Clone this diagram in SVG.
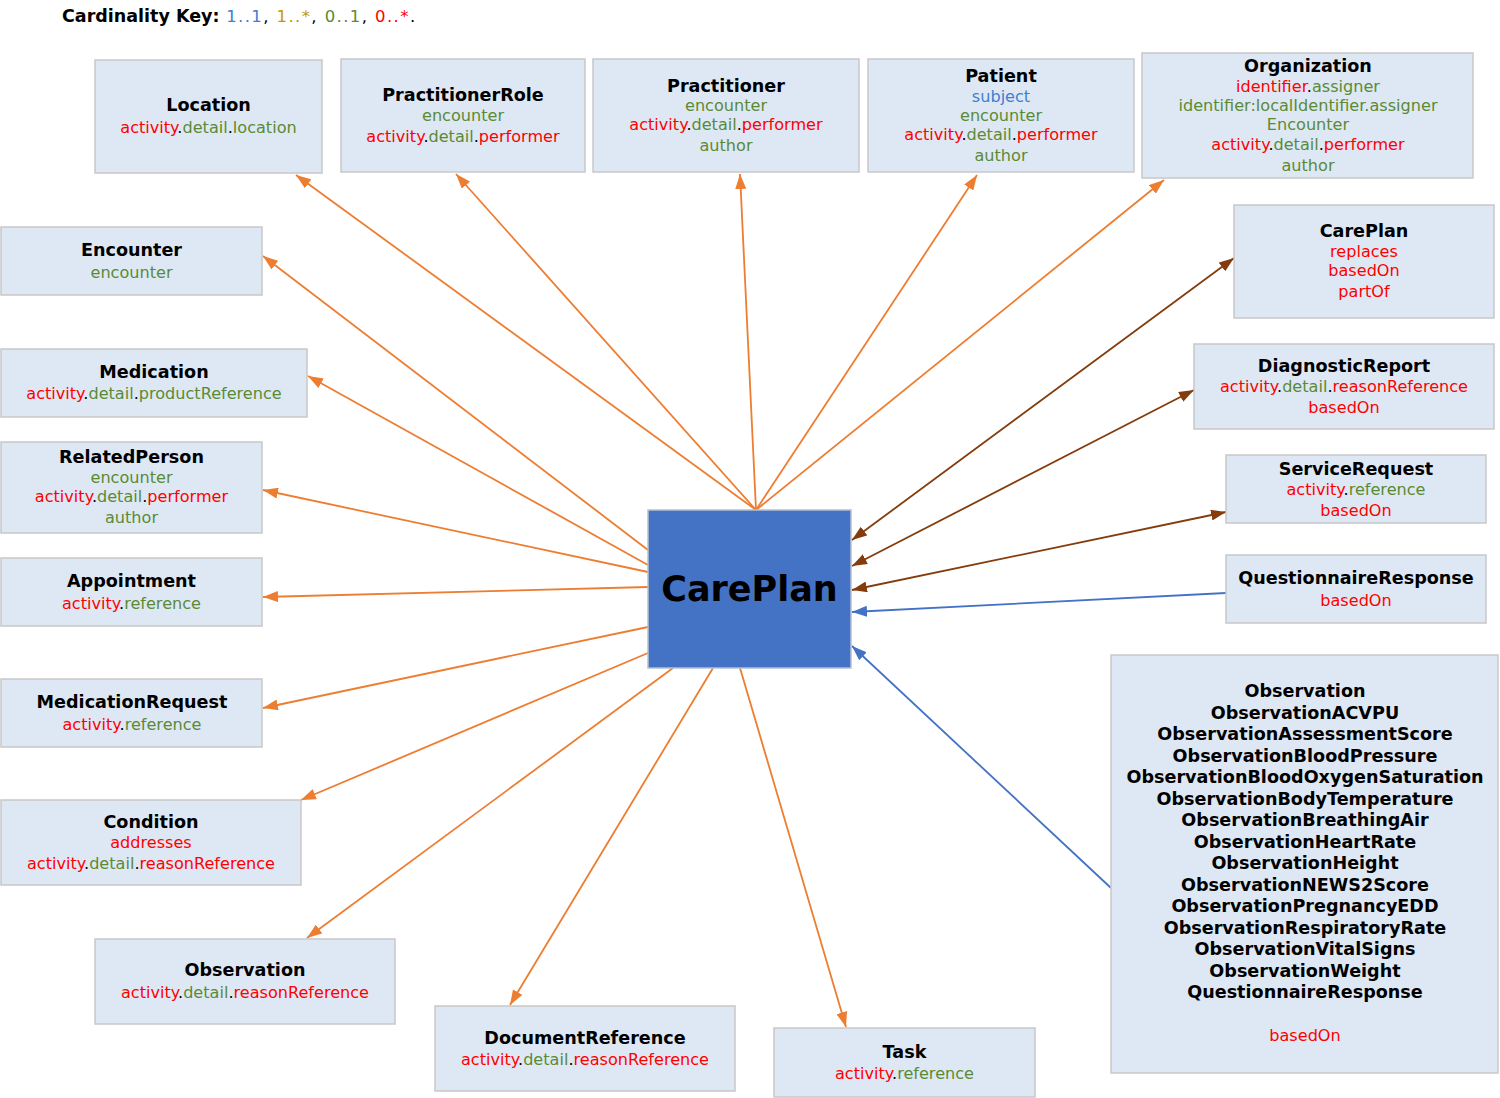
<svg xmlns="http://www.w3.org/2000/svg" width="1500" height="1098" viewBox="0 0 1500 1098">
<style>
text{font-family:"DejaVu Sans","Verdana",sans-serif;}
.box{fill:#dde8f4;stroke:#c8c8c8;stroke-width:1.5;}
.t{font-weight:bold;font-size:17.6px;fill:#000;text-anchor:middle;}
.s{font-size:16.1px;fill:#000;text-anchor:middle;}
.r{fill:#ff0000;}
.g{fill:#5b8a35;}
.b{fill:#3f7fcf;}
.y{fill:#c49a00;}
.k{fill:#000;}
.or{stroke:#ed7d31;stroke-width:1.8;fill:none;}
.br{stroke:#843c0c;stroke-width:1.8;fill:none;}
.bl{stroke:#4472c4;stroke-width:1.8;fill:none;}
</style>
<defs>
<marker id="ao" viewBox="0 0 15 11" refX="15" refY="5.5" markerWidth="15" markerHeight="11" markerUnits="userSpaceOnUse" orient="auto-start-reverse"><path d="M0,0 L15,5.5 L0,11 z" fill="#ed7d31"/></marker>
<marker id="ab" viewBox="0 0 15 11" refX="15" refY="5.5" markerWidth="15" markerHeight="11" markerUnits="userSpaceOnUse" orient="auto-start-reverse"><path d="M0,0 L15,5.5 L0,11 z" fill="#843c0c"/></marker>
<marker id="al" viewBox="0 0 15 11" refX="15" refY="5.5" markerWidth="15" markerHeight="11" markerUnits="userSpaceOnUse" orient="auto-start-reverse"><path d="M0,0 L15,5.5 L0,11 z" fill="#4472c4"/></marker>
</defs>
<rect x="0" y="0" width="1500" height="1098" fill="#ffffff"/>

<text x="62" y="22" font-size="17.5px"><tspan font-weight="bold">Cardinality Key:</tspan><tspan font-size="16.5px" letter-spacing="1.4px"> <tspan class="b">1..1</tspan>, <tspan class="y">1..*</tspan>, <tspan class="g">0..1</tspan>, <tspan class="r">0..*</tspan>.</tspan></text>

<g id="connectors">
<line class="or" x1="756" y1="510" x2="296" y2="175" marker-end="url(#ao)"/>
<line class="or" x1="756" y1="510" x2="456" y2="174" marker-end="url(#ao)"/>
<line class="or" x1="756" y1="510" x2="740" y2="174" marker-end="url(#ao)"/>
<line class="or" x1="756" y1="510" x2="977" y2="175" marker-end="url(#ao)"/>
<line class="or" x1="756" y1="510" x2="1164" y2="180" marker-end="url(#ao)"/>
<line class="or" x1="648" y1="550" x2="263" y2="256" marker-end="url(#ao)"/>
<line class="or" x1="648" y1="565" x2="308" y2="376" marker-end="url(#ao)"/>
<line class="or" x1="648" y1="572" x2="263" y2="490" marker-end="url(#ao)"/>
<line class="or" x1="648" y1="587" x2="263" y2="597" marker-end="url(#ao)"/>
<line class="or" x1="648" y1="627" x2="263" y2="708" marker-end="url(#ao)"/>
<line class="or" x1="648" y1="653" x2="301" y2="800" marker-end="url(#ao)"/>
<line class="or" x1="673" y1="668" x2="307" y2="938" marker-end="url(#ao)"/>
<line class="or" x1="713" y1="668" x2="510" y2="1005" marker-end="url(#ao)"/>
<line class="or" x1="740" y1="668" x2="846" y2="1027" marker-end="url(#ao)"/>
<line class="br" x1="852" y1="540" x2="1234" y2="258" marker-start="url(#ab)" marker-end="url(#ab)"/>
<line class="br" x1="852" y1="566" x2="1194" y2="390" marker-start="url(#ab)" marker-end="url(#ab)"/>
<line class="br" x1="852" y1="590" x2="1226" y2="512" marker-start="url(#ab)" marker-end="url(#ab)"/>
<line class="bl" x1="1226" y1="593" x2="852" y2="612" marker-end="url(#al)"/>
<line class="bl" x1="1111" y1="888" x2="852" y2="646" marker-end="url(#al)"/>
</g>

<g id="careplan-center">
<rect x="648" y="510" width="203" height="158" fill="#4472c4" stroke="#b4c0d4" stroke-width="1.5"/>
<text x="749.5" y="601" font-weight="bold" font-size="35px" text-anchor="middle" fill="#000">CarePlan</text>
</g>

<g id="location">
<rect class="box" x="95" y="60" width="227" height="113"/>
<text class="t" x="208.5" y="111">Location</text>
<text class="s" x="208.5" y="133"><tspan class="r">activity</tspan>.<tspan class="g">detail</tspan>.<tspan class="g">location</tspan></text>
</g>

<g id="practitionerrole">
<rect class="box" x="341" y="59" width="244" height="113"/>
<text class="t" x="463" y="101">PractitionerRole</text>
<text class="s" x="463" y="121"><tspan class="g">encounter</tspan></text>
<text class="s" x="463" y="142"><tspan class="r">activity</tspan>.<tspan class="g">detail</tspan>.<tspan class="r">performer</tspan></text>
</g>

<g id="practitioner">
<rect class="box" x="593" y="59" width="266" height="113"/>
<text class="t" x="726" y="92">Practitioner</text>
<text class="s" x="726" y="111"><tspan class="g">encounter</tspan></text>
<text class="s" x="726" y="130"><tspan class="r">activity</tspan>.<tspan class="g">detail</tspan>.<tspan class="r">performer</tspan></text>
<text class="s" x="726" y="151"><tspan class="g">author</tspan></text>
</g>

<g id="patient">
<rect class="box" x="868" y="59" width="266" height="113"/>
<text class="t" x="1001" y="82">Patient</text>
<text class="s" x="1001" y="102"><tspan class="b">subject</tspan></text>
<text class="s" x="1001" y="121"><tspan class="g">encounter</tspan></text>
<text class="s" x="1001" y="140"><tspan class="r">activity</tspan>.<tspan class="g">detail</tspan>.<tspan class="r">performer</tspan></text>
<text class="s" x="1001" y="161"><tspan class="g">author</tspan></text>
</g>

<g id="organization">
<rect class="box" x="1142" y="53" width="331" height="125"/>
<text class="t" x="1308" y="72">Organization</text>
<text class="s" x="1308" y="92"><tspan class="r">identifier</tspan>.<tspan class="g">assigner</tspan></text>
<text class="s" x="1308" y="111"><tspan class="g">identifier:localIdentifier.assigner</tspan></text>
<text class="s" x="1308" y="130"><tspan class="g">Encounter</tspan></text>
<text class="s" x="1308" y="150"><tspan class="r">activity</tspan>.<tspan class="g">detail</tspan>.<tspan class="r">performer</tspan></text>
<text class="s" x="1308" y="171"><tspan class="g">author</tspan></text>
</g>

<g id="careplan-ref">
<rect class="box" x="1234" y="205" width="260" height="113"/>
<text class="t" x="1364" y="237">CarePlan</text>
<text class="s" x="1364" y="257"><tspan class="r">replaces</tspan></text>
<text class="s" x="1364" y="276"><tspan class="r">basedOn</tspan></text>
<text class="s" x="1364" y="297"><tspan class="r">partOf</tspan></text>
</g>

<g id="diagnosticreport">
<rect class="box" x="1194" y="344" width="300" height="85"/>
<text class="t" x="1344" y="372">DiagnosticReport</text>
<text class="s" x="1344" y="392"><tspan class="r">activity</tspan>.<tspan class="g">detail</tspan>.<tspan class="r">reasonReference</tspan></text>
<text class="s" x="1344" y="413"><tspan class="r">basedOn</tspan></text>
</g>

<g id="servicerequest">
<rect class="box" x="1226" y="455" width="260" height="68"/>
<text class="t" x="1356" y="475">ServiceRequest</text>
<text class="s" x="1356" y="495"><tspan class="r">activity</tspan>.<tspan class="g">reference</tspan></text>
<text class="s" x="1356" y="516"><tspan class="r">basedOn</tspan></text>
</g>

<g id="questionnaireresponse">
<rect class="box" x="1226" y="555" width="260" height="68"/>
<text class="t" x="1356" y="584">QuestionnaireResponse</text>
<text class="s" x="1356" y="606"><tspan class="r">basedOn</tspan></text>
</g>

<g id="observation-group">
<rect class="box" x="1111" y="655" width="387" height="418"/>
<text class="t" x="1305" y="697">Observation</text>
<text class="t" x="1305" y="718.5">ObservationACVPU</text>
<text class="t" x="1305" y="740">ObservationAssessmentScore</text>
<text class="t" x="1305" y="761.5">ObservationBloodPressure</text>
<text class="t" x="1305" y="783">ObservationBloodOxygenSaturation</text>
<text class="t" x="1305" y="804.5">ObservationBodyTemperature</text>
<text class="t" x="1305" y="826">ObservationBreathingAir</text>
<text class="t" x="1305" y="847.5">ObservationHeartRate</text>
<text class="t" x="1305" y="869">ObservationHeight</text>
<text class="t" x="1305" y="890.5">ObservationNEWS2Score</text>
<text class="t" x="1305" y="912">ObservationPregnancyEDD</text>
<text class="t" x="1305" y="933.5">ObservationRespiratoryRate</text>
<text class="t" x="1305" y="955">ObservationVitalSigns</text>
<text class="t" x="1305" y="976.5">ObservationWeight</text>
<text class="t" x="1305" y="998">QuestionnaireResponse</text>
<text class="s" x="1305" y="1041"><tspan class="r">basedOn</tspan></text>
</g>

<g id="encounter">
<rect class="box" x="1" y="227" width="261" height="68"/>
<text class="t" x="131.5" y="256">Encounter</text>
<text class="s" x="131.5" y="278"><tspan class="g">encounter</tspan></text>
</g>

<g id="medication">
<rect class="box" x="1" y="349" width="306" height="68"/>
<text class="t" x="154" y="378">Medication</text>
<text class="s" x="154" y="399"><tspan class="r">activity</tspan>.<tspan class="g">detail</tspan>.<tspan class="g">productReference</tspan></text>
</g>

<g id="relatedperson">
<rect class="box" x="1" y="442" width="261" height="91"/>
<text class="t" x="131.5" y="463">RelatedPerson</text>
<text class="s" x="131.5" y="483"><tspan class="g">encounter</tspan></text>
<text class="s" x="131.5" y="502"><tspan class="r">activity</tspan>.<tspan class="g">detail</tspan>.<tspan class="r">performer</tspan></text>
<text class="s" x="131.5" y="523"><tspan class="g">author</tspan></text>
</g>

<g id="appointment">
<rect class="box" x="1" y="558" width="261" height="68"/>
<text class="t" x="131.5" y="587">Appointment</text>
<text class="s" x="131.5" y="609"><tspan class="r">activity</tspan>.<tspan class="g">reference</tspan></text>
</g>

<g id="medicationrequest">
<rect class="box" x="1" y="679" width="261" height="68"/>
<text class="t" x="132" y="708">MedicationRequest</text>
<text class="s" x="132" y="730"><tspan class="r">activity</tspan>.<tspan class="g">reference</tspan></text>
</g>

<g id="condition">
<rect class="box" x="1" y="800" width="300" height="85"/>
<text class="t" x="151" y="828">Condition</text>
<text class="s" x="151" y="848"><tspan class="r">addresses</tspan></text>
<text class="s" x="151" y="869"><tspan class="r">activity</tspan>.<tspan class="g">detail</tspan>.<tspan class="r">reasonReference</tspan></text>
</g>

<g id="observation">
<rect class="box" x="95" y="939" width="300" height="85"/>
<text class="t" x="245" y="976">Observation</text>
<text class="s" x="245" y="998"><tspan class="r">activity</tspan>.<tspan class="g">detail</tspan>.<tspan class="r">reasonReference</tspan></text>
</g>

<g id="documentreference">
<rect class="box" x="435" y="1006" width="300" height="85"/>
<text class="t" x="585" y="1044">DocumentReference</text>
<text class="s" x="585" y="1065"><tspan class="r">activity</tspan>.<tspan class="g">detail</tspan>.<tspan class="r">reasonReference</tspan></text>
</g>

<g id="task">
<rect class="box" x="774" y="1028" width="261" height="69"/>
<text class="t" x="904.5" y="1058">Task</text>
<text class="s" x="904.5" y="1079"><tspan class="r">activity</tspan>.<tspan class="g">reference</tspan></text>
</g>
</svg>
